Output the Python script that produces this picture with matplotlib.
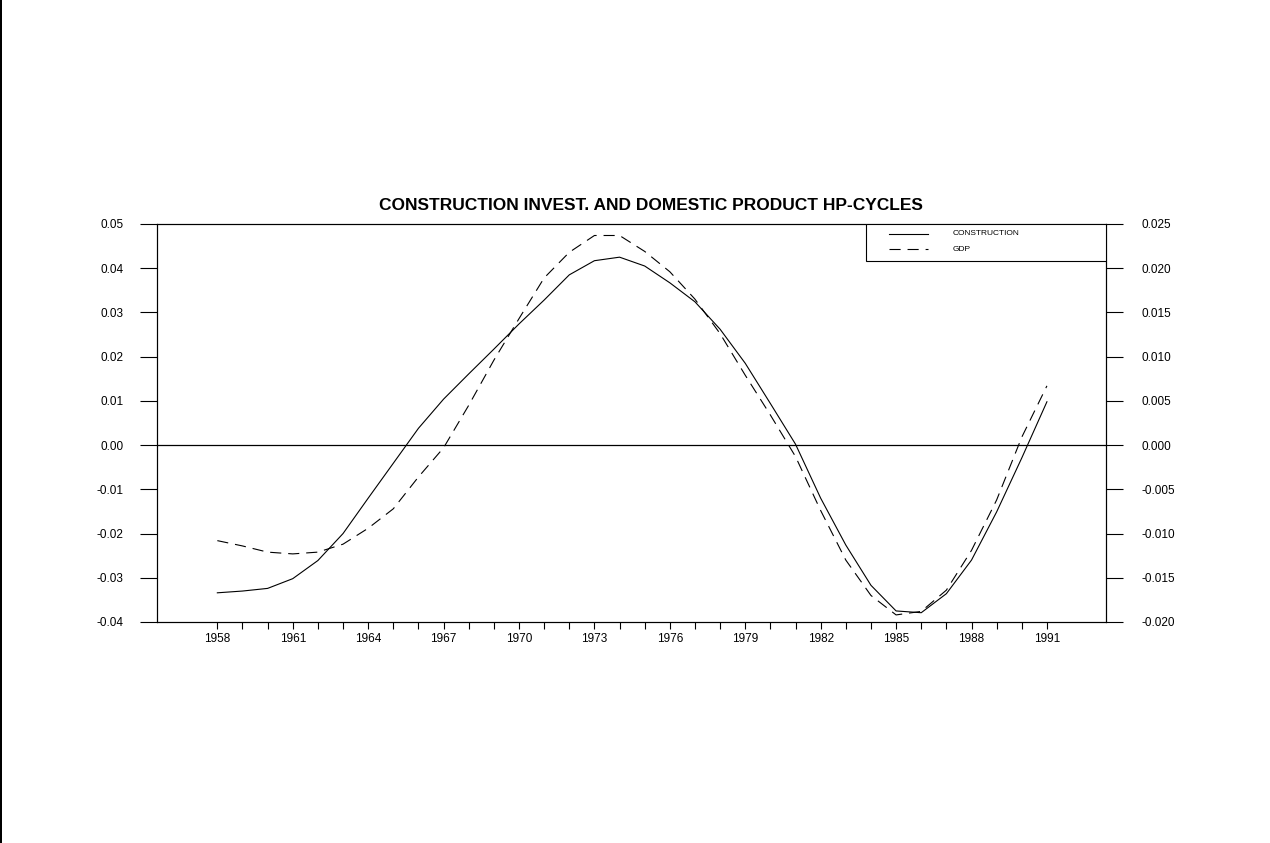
import numpy as np
import matplotlib
matplotlib.use("Agg")
import matplotlib.pyplot as plt
from matplotlib.lines import Line2D
from matplotlib.patches import Rectangle
from matplotlib.ticker import MultipleLocator, FixedLocator

plt.rcParams["font.family"] = ["Liberation Sans", "DejaVu Sans"]
plt.rcParams["lines.scale_dashes"] = False

years = np.arange(1958, 1992)

# HP-filtered cycle of construction investment (left axis)
construction = [
    -0.0334, -0.0330, -0.0324, -0.0302, -0.0261, -0.0200, -0.0120, -0.0041,
    0.0038, 0.0104, 0.0161, 0.0217, 0.0274, 0.0328, 0.0385, 0.0417,
    0.0425, 0.0405, 0.0367, 0.0324, 0.0262, 0.0185, 0.0094, 0.0002,
    -0.0120, -0.0226, -0.0317, -0.0375, -0.0379, -0.0336, -0.0260, -0.0151,
    -0.0029, 0.0098,
]

# HP-filtered cycle of GDP (right axis)
gdp = [
    -0.0108, -0.0114, -0.0121, -0.0123, -0.0121, -0.0112, -0.0094, -0.0072,
    -0.0036, -0.0003, 0.0045, 0.0096, 0.0143, 0.0189, 0.0218, 0.0237,
    0.0237, 0.0219, 0.0196, 0.0165, 0.0126, 0.0079, 0.0034, -0.0013,
    -0.0074, -0.0130, -0.0170, -0.0192, -0.0188, -0.0164, -0.0119, -0.0062,
    0.0009, 0.0067,
]

W, H = 1270, 843
fig = plt.figure(figsize=(W / 100, H / 100), dpi=100)
fig.patch.set_facecolor("white")

x0, x1, y0, y1 = 157, 1106, 224, 622
ax = fig.add_axes([x0 / W, 1 - y1 / H, (x1 - x0) / W, (y1 - y0) / H])
ax2 = ax.twinx()

ax.plot(years, construction, color="black", lw=0.8)
ax2.plot(years, gdp, color="black", lw=0.8, linestyle=(0, (8, 5)))
ax.axhline(0, color="black", lw=0.9)

ax.set_xlim(1955.6, 1993.35)
ax.set_ylim(-0.04, 0.05)
ax2.set_ylim(-0.02, 0.025)

ax.xaxis.set_major_locator(FixedLocator(np.arange(1958, 1992, 3)))
ax.xaxis.set_minor_locator(FixedLocator(years))
ax.yaxis.set_major_locator(MultipleLocator(0.01))
ax2.yaxis.set_major_locator(MultipleLocator(0.005))
ax.yaxis.set_major_formatter(plt.FuncFormatter(lambda v, p: f"{v:.2f}"))
ax2.yaxis.set_major_formatter(plt.FuncFormatter(lambda v, p: f"{v:.3f}"))

ax.tick_params(axis="x", which="both", direction="out", length=5, width=0.8,
               labelsize=8.5, pad=3)
ax.tick_params(axis="y", direction="out", length=12.2, width=0.8,
               labelsize=8.5, pad=12)
ax2.tick_params(axis="y", direction="out", length=12.2, width=0.8,
                labelsize=8.5, pad=13)

for a in (ax, ax2):
    for s in a.spines.values():
        s.set_linewidth(0.8)

fig.text(651 / W, 1 - 205 / H, "CONSTRUCTION INVEST. AND DOMESTIC PRODUCT HP-CYCLES",
         fontsize=12.5, fontweight="bold", ha="center", va="center")

# legend box in the upper right corner
lx0, ly0 = 0.747, 0.907
ax2.add_patch(Rectangle((lx0, ly0), 1 - lx0, 1 - ly0, transform=ax2.transAxes,
                        facecolor="white", edgecolor="black", lw=0.8, zorder=5))
ax2.add_line(Line2D([0.771, 0.812], [0.975, 0.975], transform=ax2.transAxes,
                    color="black", lw=0.8, zorder=6))
ax2.add_line(Line2D([0.771, 0.812], [0.937, 0.937], transform=ax2.transAxes,
                    color="black", lw=0.8, linestyle=(0, (8, 5)), zorder=6))
ax2.text(0.838, 0.975, "CONSTRUCTION", transform=ax2.transAxes, fontsize=6,
         va="center", ha="left", zorder=6)
ax2.text(0.838, 0.937, "GDP", transform=ax2.transAxes, fontsize=6,
         va="center", ha="left", zorder=6)

# thin rule along the left page edge
fig.add_artist(Rectangle((0, 0), 2 / W, 1, transform=fig.transFigure,
                         facecolor="black", edgecolor="none"))

fig.savefig("out.png", dpi=100, facecolor="white")
